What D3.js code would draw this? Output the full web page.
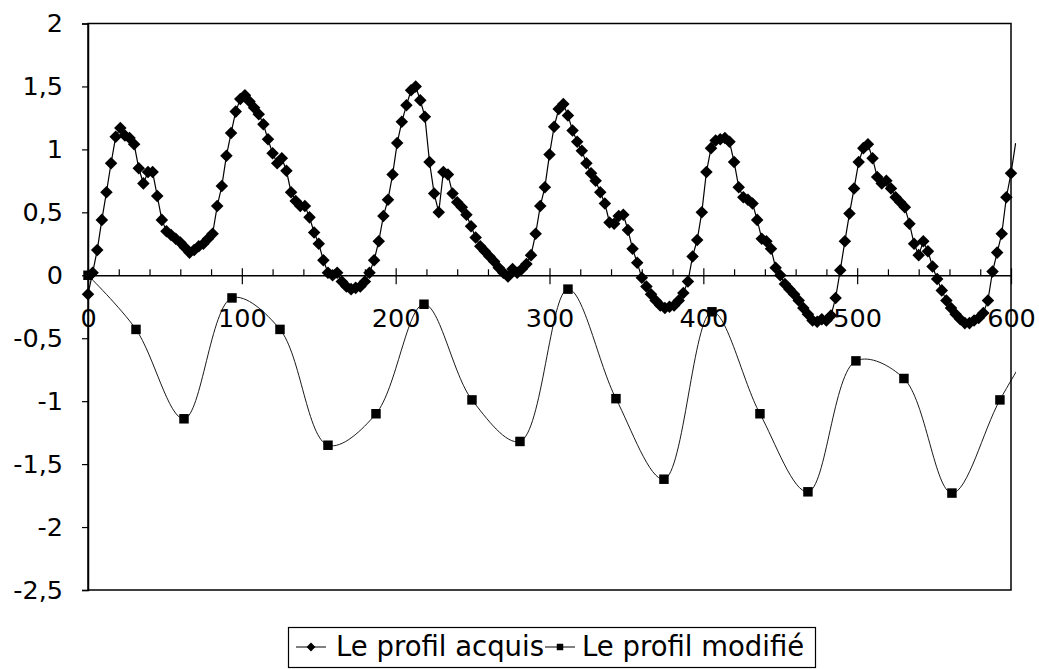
<!DOCTYPE html>
<html>
<head>
<meta charset="utf-8">
<script src="https://cdn.jsdelivr.net/npm/d3@7"></script>
<style>
  html, body { margin: 0; padding: 0; background: #fff; }
  svg { display: block; }
  text { font-family: "DejaVu Sans", Verdana, sans-serif; fill: #000; }
</style>
</head>
<body>
<svg id="chart" width="1039" height="669"></svg>
<script>
// ---------- data ----------
const acquisStep = 3; // x spacing of the acquired profile samples
const acquisValues = [
  -0.15, 0.02, 0.20, 0.44, 0.66, 0.89, 1.10, 1.17, 1.11, 1.09,
  1.04, 0.85, 0.73, 0.82, 0.82, 0.63, 0.44, 0.35, 0.32, 0.29,
  0.26, 0.22, 0.18, 0.20, 0.23, 0.25, 0.29, 0.33, 0.55, 0.71,
  0.95, 1.13, 1.30, 1.40, 1.43, 1.38, 1.33, 1.28, 1.20, 1.08,
  0.97, 0.89, 0.93, 0.83, 0.66, 0.59, 0.55, 0.55, 0.46, 0.34,
  0.25, 0.12, 0.02, 0.00, 0.02, -0.05, -0.09, -0.11, -0.10, -0.09,
  -0.05, 0.02, 0.12, 0.27, 0.47, 0.60, 0.80, 1.05, 1.22, 1.35,
  1.47, 1.50, 1.39, 1.26, 0.90, 0.65, 0.50, 0.82, 0.80, 0.65,
  0.58, 0.54, 0.48, 0.39, 0.30, 0.23, 0.19, 0.15, 0.11, 0.06,
  0.02, -0.01, 0.05, 0.02, 0.05, 0.09, 0.16, 0.33, 0.55, 0.70,
  0.96, 1.18, 1.32, 1.36, 1.27, 1.15, 1.06, 0.99, 0.89, 0.81,
  0.75, 0.66, 0.57, 0.42, 0.41, 0.47, 0.48, 0.36, 0.21, 0.10,
  -0.02, -0.09, -0.15, -0.20, -0.24, -0.26, -0.25, -0.24, -0.20, -0.14,
  -0.05, 0.15, 0.28, 0.50, 0.82, 1.01, 1.07, 1.08, 1.09, 1.06,
  0.90, 0.70, 0.62, 0.60, 0.57, 0.44, 0.29, 0.27, 0.21, 0.06,
  0.00, -0.07, -0.11, -0.15, -0.20, -0.26, -0.31, -0.36, -0.37, -0.35,
  -0.36, -0.32, -0.18, 0.04, 0.27, 0.49, 0.69, 0.90, 1.01, 1.04,
  0.93, 0.78, 0.73, 0.75, 0.69, 0.62, 0.58, 0.54, 0.41, 0.25,
  0.16, 0.27, 0.19, 0.07, -0.03, -0.12, -0.20, -0.26, -0.31, -0.35,
  -0.38, -0.38, -0.36, -0.34, -0.30, -0.20, 0.03, 0.18, 0.33, 0.62,
  0.81, 1.05
];
const modifStep = 31.2; // x spacing of the modified profile samples
const modifValues = [
  0.00, -0.43, -1.14, -0.18, -0.43, -1.35, -1.10, -0.23, -0.99, -1.32,
  -0.11, -0.98, -1.62, -0.29, -1.10, -1.72, -0.68, -0.82, -1.73, -0.99,
  -0.35
];
const xTickValues = [0, 100, 200, 300, 400, 500, 600];
const xTickLabels = ["0", "100", "200", "300", "400", "500", "600"];
const xMinorTicks = [20, 40, 60, 80, 120, 140, 160, 180, 220, 240, 260, 280,
                     320, 340, 360, 380, 420, 440, 460, 480, 520, 540, 560, 580];
const yTickValues = [2, 1.5, 1, 0.5, 0, -0.5, -1, -1.5, -2, -2.5];
const yTickLabels = ["2", "1,5", "1", "0,5", "0", "-0,5", "-1", "-1,5", "-2", "-2,5"];
const seriesNames = ["Le profil acquis", "Le profil modifié"];

// ---------- build ----------
const acquis = acquisValues.map((v, i) => ({ x: i * acquisStep, y: v }));
const modif = modifValues.map((v, i) => ({ x: i * modifStep, y: v }));

const svg = d3.select("#chart");
const L = 88, R = 1011, T = 23.5, B = 590;
const x = d3.scaleLinear().domain([0, 600]).range([L, R]);
const y = d3.scaleLinear().domain([-2.5, 2]).range([B, T]);

// plot border
svg.append("rect")
  .attr("x", L).attr("y", T).attr("width", R - L).attr("height", B - T)
  .attr("fill", "none").attr("stroke", "#000").attr("stroke-width", 1.5);

// Y axis
const yAxis = svg.append("g").attr("transform", `translate(${L},0)`)
  .call(d3.axisLeft(y).tickValues(yTickValues).tickSize(6).tickPadding(19)
        .tickFormat((d, i) => yTickLabels[i]));
yAxis.select(".domain").attr("stroke", "#000").attr("stroke-width", 1.5);
yAxis.selectAll(".tick line").attr("stroke", "#000").attr("stroke-width", 1.2);
yAxis.selectAll(".tick text").attr("font-size", 25.5)
  .style("font-family", '"DejaVu Sans", Verdana, sans-serif');

// X axis at y = 0 (minor ticks inside, major ticks crossing)
const xMinor = svg.append("g").attr("transform", `translate(0,${y(0)})`)
  .call(d3.axisBottom(x).tickValues(xMinorTicks).tickSize(-6).tickFormat(""));
xMinor.select(".domain").remove();
xMinor.selectAll(".tick line").attr("stroke", "#000").attr("stroke-width", 1.2);

const xAxis = svg.append("g").attr("transform", `translate(0,${y(0)})`)
  .call(d3.axisBottom(x).tickValues(xTickValues).tickSize(9).tickSizeOuter(0)
        .tickFormat((d, i) => xTickLabels[i]));
xAxis.select(".domain").attr("stroke", "#000").attr("stroke-width", 1.5);
xAxis.selectAll(".tick line").attr("y1", -7).attr("stroke", "#000").attr("stroke-width", 1.2);
xAxis.selectAll(".tick text").attr("font-size", 25.5).attr("y", 52).attr("dy", 0)
  .style("font-family", '"DejaVu Sans", Verdana, sans-serif');

// clip for lines (they run a little past the right edge)
svg.append("clipPath").attr("id", "lineclip")
  .append("rect").attr("x", L - 2).attr("y", 0).attr("width", R - L + 7).attr("height", 669);

const diamondType = d3.symbolDiamond2 || d3.symbolDiamond;
const diamond = d3.symbol().type(diamondType).size(100);
const square = d3.symbol().type(d3.symbolSquare).size(90);

// modified profile (smoothed)
svg.append("path").datum(modif)
  .attr("clip-path", "url(#lineclip)")
  .attr("fill", "none").attr("stroke", "#000").attr("stroke-width", 0.9)
  .attr("d", d3.line().x(d => x(d.x)).y(d => y(d.y)).curve(d3.curveCatmullRom.alpha(0.5)));
svg.append("g").selectAll("path").data(modif.filter(d => d.x <= 600)).join("path")
  .attr("transform", d => `translate(${x(d.x)},${y(d.y)})`)
  .attr("d", square).attr("fill", "#000");

// acquired profile
svg.append("path").datum(acquis)
  .attr("clip-path", "url(#lineclip)")
  .attr("fill", "none").attr("stroke", "#000").attr("stroke-width", 1.2)
  .attr("d", d3.line().x(d => x(d.x)).y(d => y(d.y)));
svg.append("g").selectAll("path").data(acquis.filter(d => d.x <= 600)).join("path")
  .attr("transform", d => `translate(${x(d.x)},${y(d.y)})`)
  .attr("d", diamond).attr("fill", "#000");

// legend
const lg = svg.append("g");
lg.append("rect").attr("x", 288.5).attr("y", 627.5).attr("width", 527).attr("height", 40)
  .attr("fill", "#fff").attr("stroke", "#000").attr("stroke-width", 1.2);
const legendItems = [
  { name: seriesNames[0], lx: 296, tx: 336, sym: "d" },
  { name: seriesNames[1], lx: 545, tx: 582, sym: "s" }
];
legendItems.forEach((it) => {
  lg.append("line").attr("x1", it.lx).attr("x2", it.lx + 30)
    .attr("y1", 647).attr("y2", 647).attr("stroke", "#000").attr("stroke-width", 1);
  lg.append("path").attr("transform", `translate(${it.lx + 15},647)`)
    .attr("d", it.sym === "d" ? d3.symbol().type(diamondType).size(50)()
                              : d3.symbol().type(d3.symbolSquare).size(42)())
    .attr("fill", "#000");
  lg.append("text").attr("x", it.tx).attr("y", 656).attr("font-size", 27.5).text(it.name);
});
</script>
</body>
</html>
